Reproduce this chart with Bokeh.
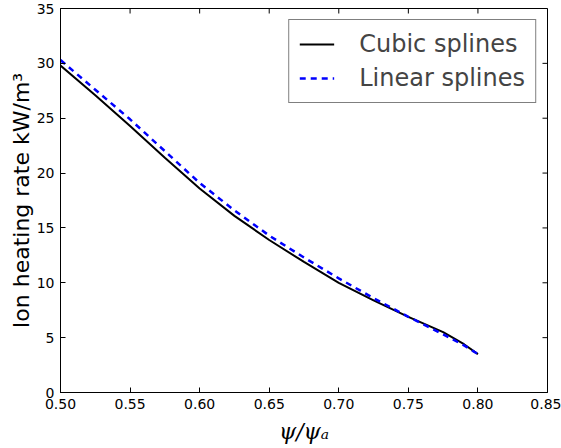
import math
from bokeh.plotting import figure
from bokeh.models import FixedTicker, Range1d, Legend, LegendItem, Title, CustomJSTickFormatter
from bokeh.embed import file_html
from bokeh.resources import INLINE

psi = [0.50, 0.525, 0.55, 0.575, 0.60, 0.625, 0.65, 0.675, 0.70, 0.725, 0.75, 0.775, 0.79, 0.80]
cubic = [29.8, 27.1, 24.3, 21.4, 18.6, 16.1, 13.9, 11.9, 10.0, 8.4, 6.9, 5.5, 4.4, 3.5]
linear = [30.3, 27.6, 24.9, 22.0, 19.1, 16.6, 14.3, 12.3, 10.4, 8.6, 6.9, 5.3, 4.3, 3.5]
x_ticks = [0.50, 0.55, 0.60, 0.65, 0.70, 0.75, 0.80, 0.85]
y_ticks = [0, 5, 10, 15, 20, 25, 30, 35]
series_names = ["Cubic splines", "Linear splines"]
y_label = "Ion heating rate kW/m³"
x_label = "ψ/ψₐ"

p = figure(width=561, height=448, output_backend="svg", toolbar_location=None,
           x_range=Range1d(0.50, 0.85), y_range=Range1d(0, 35),
           min_border_left=60, min_border_right=14, min_border_top=8, min_border_bottom=0)
p.xgrid.visible = False
p.ygrid.visible = False
p.outline_line_color = "black"
p.outline_line_width = 1
p.background_fill_color = "white"
p.border_fill_color = "white"

for ax, ticks, fmt in ((p.xaxis[0], x_ticks, "return tick.toFixed(2);"),
                       (p.yaxis[0], y_ticks, "return tick.toFixed(0);")):
    ax.ticker = FixedTicker(ticks=ticks)
    ax.formatter = CustomJSTickFormatter(code=fmt)
    ax.axis_line_color = "black"
    ax.major_tick_in = 5
    ax.major_tick_out = 0
    ax.minor_tick_line_color = None
    ax.major_tick_line_color = "black"
    ax.major_label_text_font = "DejaVu Sans"
    ax.major_label_text_font_size = "14px"
    ax.major_label_text_color = "black"
    ax.major_label_standoff = 6

# y axis label
p.yaxis.axis_label = y_label
p.yaxis.axis_label_text_font = "DejaVu Sans"
p.yaxis.axis_label_text_font_size = "22px"
p.yaxis.axis_label_text_font_style = "normal"
p.yaxis.axis_label_text_color = "black"
p.yaxis.axis_label_standoff = 0

# ticks on top and right edges (inward)
p.ray(x=x_ticks, y=35, length=5, angle=-math.pi / 2, length_units="screen",
      line_color="black", line_width=1)
p.ray(x=0.85, y=y_ticks, length=5, angle=math.pi, length_units="screen",
      line_color="black", line_width=1)

r1 = p.line(psi, cubic, line_color="black", line_width=2)
r2 = p.line(psi, linear, line_color="blue", line_width=2.5, line_dash="6 5")

legend = Legend(items=[LegendItem(label=series_names[0], renderers=[r1]),
                       LegendItem(label=series_names[1], renderers=[r2])],
                location="top_right")
legend.label_text_font = "DejaVu Sans"
legend.label_text_font_size = "24px"
legend.glyph_width = 35
legend.glyph_height = 22
legend.label_standoff = 25
legend.spacing = 6
legend.padding = 10
legend.margin = 11
legend.border_line_color = "black"
legend.border_line_width = 1
legend.background_fill_alpha = 1
p.add_layout(legend)

# x axis label
xt = Title(text=x_label, align="center", text_font="DejaVu Serif", text_font_style="italic",
           text_font_size="22px", text_color="black", standoff=10)
p.add_layout(xt, "below")

open("out.html", "w").write(file_html(p, INLINE))
